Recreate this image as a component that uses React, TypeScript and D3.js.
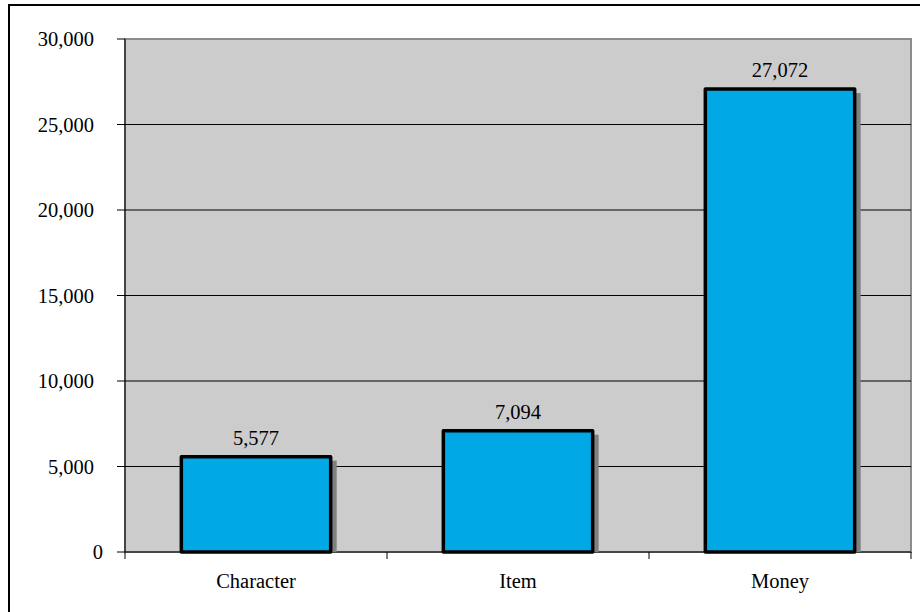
import React from "react";
import * as d3 from "d3";

const categories = ["Character", "Item", "Money"];
const values = [5577, 7094, 27072];
const yTicks = [0, 5000, 10000, 15000, 20000, 25000, 30000];

const W = 920;
const H = 612;
const plot = { left: 125, top: 39, right: 911, bottom: 552 };

export default function App() {
  const x = d3
    .scaleBand<string>()
    .domain(categories)
    .range([plot.left, plot.right])
    .paddingInner(0.43)
    .paddingOuter(0.215);
  const y = d3.scaleLinear().domain([0, 30000]).range([plot.bottom, plot.top]);
  const fmt = d3.format(",");
  const step = x.step();
  const font = "'Liberation Serif', 'Times New Roman', serif";

  return (
    <svg
      width={W}
      height={H}
      style={{ position: "absolute", left: 0, top: 0, background: "#fff" }}
      fontFamily={font}
    >
      {/* chart frame */}
      <rect x={9} y={5} width={W + 20} height={H + 20} fill="#fff" stroke="#000" strokeWidth={2} />

      {/* plot background */}
      <rect
        x={plot.left}
        y={plot.top}
        width={plot.right - plot.left}
        height={plot.bottom - plot.top}
        fill="#cccccc"
        stroke="#8c8c8c"
        strokeWidth={2}
      />

      {/* gridlines */}
      {yTicks.slice(1, -1).map((t) => (
        <line key={t} x1={plot.left} x2={plot.right} y1={y(t)} y2={y(t)} stroke="#000" strokeWidth={1} />
      ))}

      {/* y axis */}
      <line x1={plot.left} x2={plot.left} y1={plot.top} y2={plot.bottom} stroke="#000" strokeWidth={1} />
      {yTicks.map((t) => (
        <g key={t}>
          <line x1={plot.left - 8} x2={plot.left} y1={y(t)} y2={y(t)} stroke="#000" strokeWidth={1} />
          <text x={t === 0 ? 103 : 94} y={y(t)} dy="0.35em" textAnchor="end" fontSize={20.5} fill="#000">
            {fmt(t)}
          </text>
        </g>
      ))}

      {/* x axis */}
      <line x1={plot.left} x2={plot.right} y1={plot.bottom} y2={plot.bottom} stroke="#000" strokeWidth={1} />
      {d3.range(categories.length + 1).map((i) => (
        <line
          key={i}
          x1={plot.left + i * step}
          x2={plot.left + i * step}
          y1={plot.bottom}
          y2={plot.bottom + 7}
          stroke="#000"
          strokeWidth={1}
        />
      ))}
      {categories.map((c) => (
        <text
          key={c}
          x={(x(c) as number) + x.bandwidth() / 2}
          y={588}
          textAnchor="middle"
          fontSize={20.5}
          fill="#000"
        >
          {c}
        </text>
      ))}

      {/* bars with drop shadow */}
      {categories.map((c, i) => {
        const bx = x(c) as number;
        const bw = x.bandwidth();
        const top = y(values[i]);
        return (
          <g key={c}>
            <rect x={bx + 6} y={top + 4} width={bw} height={plot.bottom - top - 4} fill="#808080" />
            <rect
              x={bx}
              y={top}
              width={bw}
              height={plot.bottom - top}
              fill="#00a9e6"
              stroke="#000"
              strokeWidth={3.5}
              strokeLinejoin="round"
            />
            <text x={bx + bw / 2} y={top - 12} textAnchor="middle" fontSize={20.5} fill="#000">
              {fmt(values[i])}
            </text>
          </g>
        );
      })}
    </svg>
  );
}
